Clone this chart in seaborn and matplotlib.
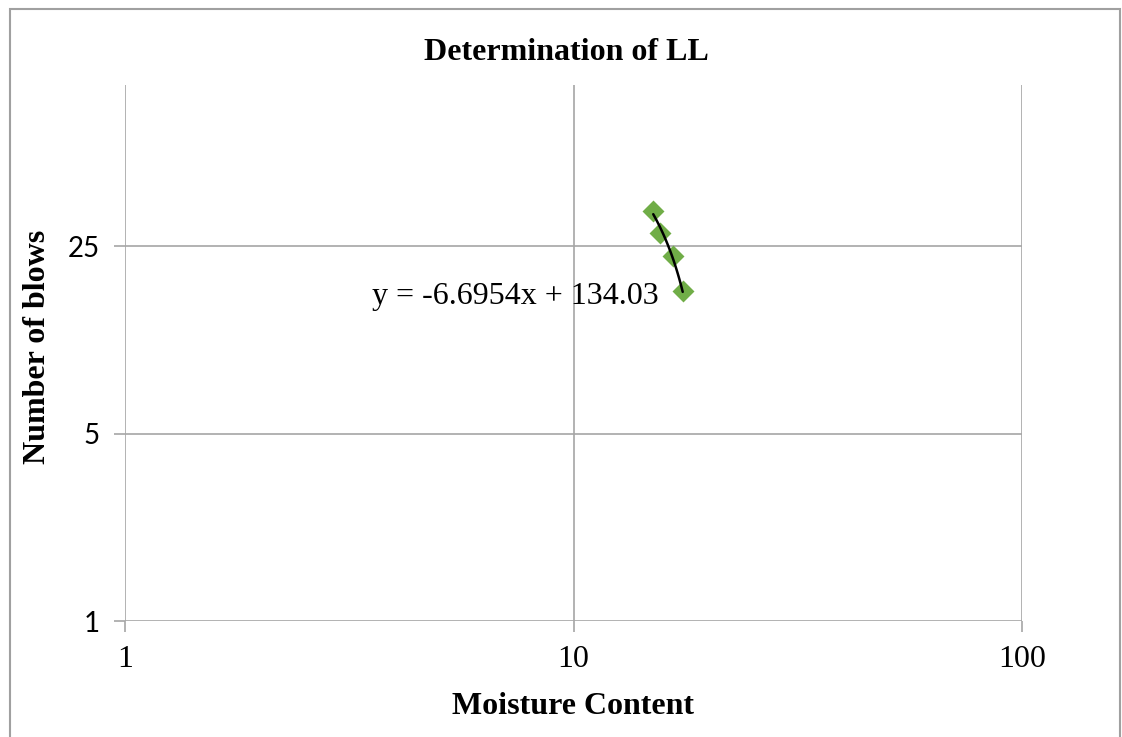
import matplotlib
matplotlib.use("Agg")
import matplotlib.pyplot as plt
import numpy as np
import pandas as pd
import seaborn as sns
from matplotlib.patches import Rectangle
from matplotlib.ticker import FixedLocator, FixedFormatter, NullLocator

# ── Data ─────────────────────────────────────────────────────────────────────
moisture = [15.06, 15.59, 16.64, 17.52]
blows = [34.0, 28.0, 23.0, 17.0]

x_ticks = [1, 10, 100]
x_tick_labels = ["1", "10", "100"]
y_ticks = [1, 5, 25]
y_tick_labels = ["1", "5", "25"]

TITLE = "Determination of LL"
X_LABEL = "Moisture Content"
Y_LABEL = "Number of blows"
EQUATION = "y = -6.6954x + 134.03"

GREEN = "#70AD47"
GRID = "#A6A6A6"

sns.set_theme(style="white")
plt.rcParams["font.family"] = ["Liberation Serif", "DejaVu Serif"]
plt.rcParams["text.color"] = "black"
plt.rcParams["axes.labelcolor"] = "black"
plt.rcParams["xtick.labelcolor"] = "black"
plt.rcParams["ytick.labelcolor"] = "black"

df = pd.DataFrame({"moisture": moisture, "blows": blows})

# linear trendline (fit in data space, drawn across the data range)
slope, intercept = np.polyfit(df["moisture"], df["blows"], 1)
trend_x = np.linspace(df["moisture"].min(), df["moisture"].max(), 50)
trend = pd.DataFrame({"moisture": trend_x, "blows": slope * trend_x + intercept})

fig = plt.figure(figsize=(11.22, 7.37), dpi=100)
ax = fig.add_axes([125 / 1122, 1 - 621 / 737, 897 / 1122, 536 / 737])

sns.scatterplot(data=df, x="moisture", y="blows", marker="D", s=125,
                color=GREEN, edgecolor=GREEN, linewidth=0, ax=ax, zorder=3)
sns.lineplot(data=trend, x="moisture", y="blows", color="black",
             linewidth=1.8, ax=ax, zorder=4)

ax.set_xscale("log")
ax.set_yscale("log", base=5)
ax.set_xlim(1, 100)
ax.set_ylim(1, 100)

ax.xaxis.set_major_locator(FixedLocator(x_ticks))
ax.xaxis.set_major_formatter(FixedFormatter(x_tick_labels))
ax.xaxis.set_minor_locator(NullLocator())
ax.yaxis.set_major_locator(FixedLocator(y_ticks))
ax.yaxis.set_major_formatter(FixedFormatter(y_tick_labels))
ax.yaxis.set_minor_locator(NullLocator())

ax.grid(True, color=GRID, linewidth=1.2)
for side in ["top", "right", "left", "bottom"]:
    ax.spines[side].set_visible(False)

ax.tick_params(axis="x", which="major", bottom=True, length=8, width=1.2,
               color=GRID, labelsize=23, pad=9)
ax.tick_params(axis="y", which="major", left=True, length=8, width=1.2,
               color=GRID, labelsize=20, pad=10)
for lbl in ax.get_yticklabels():
    lbl.set_fontfamily(["Lato", "DejaVu Sans"])

ax.set_xlabel(X_LABEL, fontsize=23, fontweight="bold", labelpad=13)
ax.set_ylabel(Y_LABEL, fontsize=23, fontweight="bold")
ax.yaxis.label.set_verticalalignment("center")
ax.yaxis.set_label_coords(-0.098, 0.512)

fig.text(566 / 1122, 1 - 52 / 737, TITLE, ha="center", va="center",
         fontsize=23, fontweight="bold")
ax.text(0.275, 0.606, EQUATION, transform=ax.transAxes, ha="left",
        va="center", fontsize=23)

# outer chart border
fig.add_artist(Rectangle((10 / 1122, -0.05), 1110 / 1122, 1.05 - 9 / 737,
                         transform=fig.transFigure, fill=False,
                         edgecolor="#A0A0A0", linewidth=1.5))

fig.savefig("out.png", dpi=100)
